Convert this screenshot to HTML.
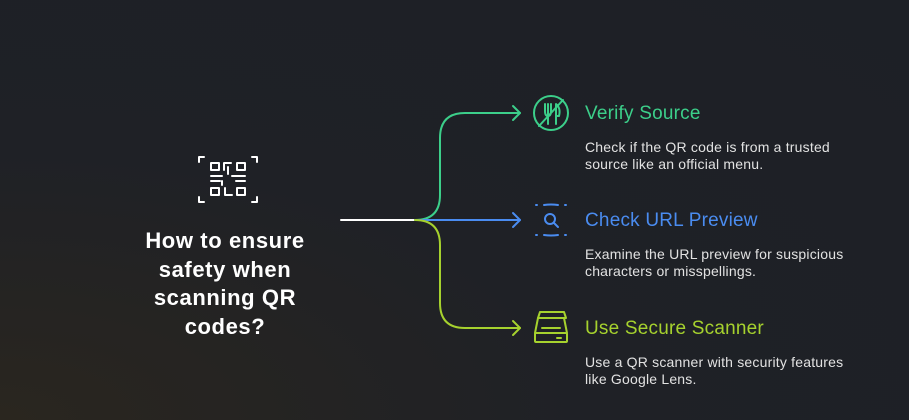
<!DOCTYPE html>
<html><head><meta charset="utf-8"><style>
html,body{margin:0;padding:0}
body{width:909px;height:420px;overflow:hidden;background:radial-gradient(ellipse at 0% 100%,#2a261f 0%,#1f2126 45%,#1d2026 100%);font-family:"Liberation Sans",sans-serif;position:relative}
.t{position:absolute;left:585px;font-size:19px;letter-spacing:0.2px}
.d{position:absolute;left:585px;font-size:14px;color:#e2e2e2;line-height:17px;letter-spacing:0.2px;white-space:nowrap}
.h{position:absolute;left:110px;width:230px;text-align:center;top:227px;color:#fff;font-weight:bold;font-size:22px;line-height:28.5px;letter-spacing:0.6px;white-space:nowrap}
</style></head><body>
<svg width="909" height="420" style="position:absolute;left:0;top:0" fill="none" stroke-linecap="round" stroke-linejoin="round">
<line x1="341" y1="220" x2="415" y2="220" stroke="#fff" stroke-width="2"/>
<path d="M415 220 Q440 220 440 195 V138 Q440 113 465 113 H520" stroke="#3ccf8a" stroke-width="2"/>
<path d="M513 106 L520 113 L513 120" stroke="#3ccf8a" stroke-width="2"/>
<path d="M415 220 H520" stroke="#4a8cf0" stroke-width="2"/>
<path d="M513 213 L520 220 L513 227" stroke="#4a8cf0" stroke-width="2"/>
<path d="M415 220 Q440 220 440 245 V303 Q440 328 465 328 H520" stroke="#a6d22e" stroke-width="2"/>
<path d="M513 321 L520 328 L513 335" stroke="#a6d22e" stroke-width="2"/>
<g stroke="#fff" stroke-width="2">
<path d="M199 162 V157 H204 M252 157 H257 V162 M199 197 V202 H204 M252 202 H257 V197"/>
<rect x="211" y="163" width="8" height="7"/><rect x="237" y="163" width="8" height="7"/>
<rect x="211" y="188" width="8" height="7"/><rect x="237" y="188" width="8" height="7"/>
<path d="M224 170 V163 H231 M228 167 V174 M211 176 H222 M232 176 H245 M222 181 V185 M211 181 H220 M225 188 V195 H232 M236 181 H245"/>
</g>
<g stroke="#3ccf8a" stroke-width="2">
<circle cx="551" cy="113" r="17"/>
<path d="M539 126 L563 100 M545 104 V111 Q545 116 548 116 Q551 116 551 111 V104 M548 104 V124 M556 124 V104 Q561 108 559 116 H556"/>
</g>
<g stroke="#4a8cf0" stroke-width="2">
<path d="M544 205 Q551 204 558 205 M544 235 Q551 236 558 235 M536 205 H537 M565 205 H566 M536 235 H537 M565 235 H566"/>
<circle cx="550" cy="219" r="5"/><path d="M554 223 L558 227"/>
</g>
<g stroke="#a6d22e" stroke-width="2">
<path d="M540 312 H564 L566 318 H538 Z"/>
<path d="M538 318 L535 333 H567 L564 318"/>
<rect x="535" y="333" width="32" height="9" rx="1"/>
<path d="M542 328 H560 M557 338 H561"/>
</g>
</svg>
<div class="h">How to ensure<br>safety when<br>scanning QR<br>codes?</div>
<div class="t" style="top:103px;color:#3ccf8a">Verify Source</div>
<div class="d" style="top:139px">Check if the QR code is from a trusted<br>source like an official menu.</div>
<div class="t" style="top:210px;color:#4a8cf0">Check URL Preview</div>
<div class="d" style="top:246px">Examine the URL preview for suspicious<br>characters or misspellings.</div>
<div class="t" style="top:318px;color:#a6d22e">Use Secure Scanner</div>
<div class="d" style="top:354px">Use a QR scanner with security features<br>like Google Lens.</div>
</body></html>
